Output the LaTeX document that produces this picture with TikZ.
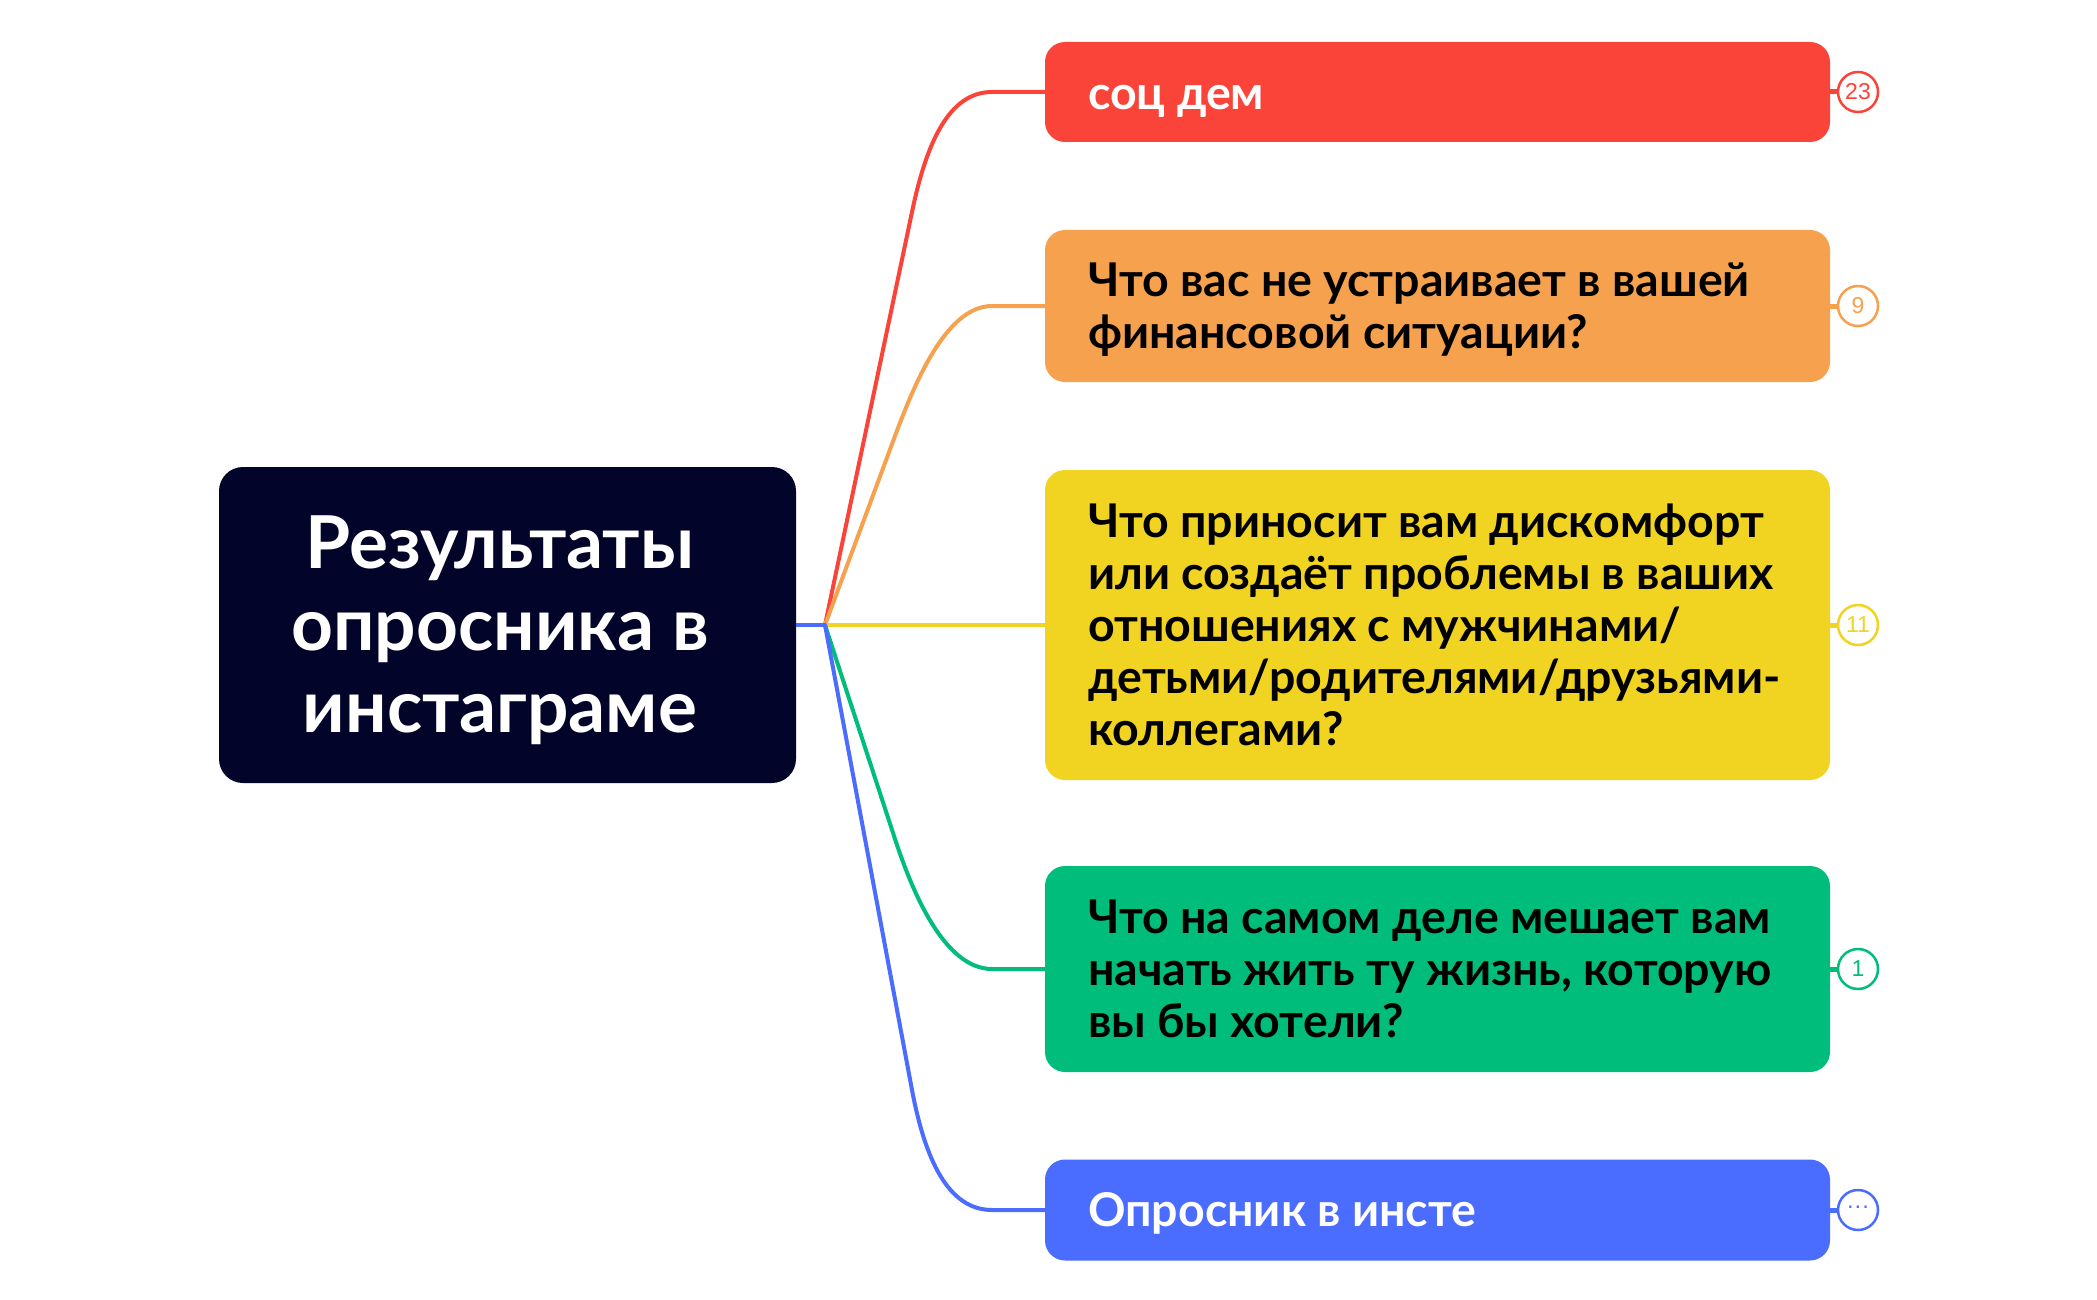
\documentclass[tikz,border=0pt]{standalone}
\usepackage{fontspec}
\setmainfont{Lato}
\newfontfamily\numfont{Liberation Sans}
\definecolor{cred}{HTML}{FB4439}
\definecolor{corange}{HTML}{F5A14D}
\definecolor{cyellow}{HTML}{F1D321}
\definecolor{cgreen}{HTML}{00BD7C}
\definecolor{cblue}{HTML}{4A6CFF}
\definecolor{cnavy}{HTML}{020529}
\begin{document}
\begin{tikzpicture}[x=1pt,y=-1pt,
  branchbox/.style={rectangle, rounded corners=20pt, minimum width=785pt, inner sep=0pt, draw=none},
  btxt/.style={anchor=west, align=left, inner sep=0pt, font=\bfseries\fontsize{46.5}{52}\selectfont},
  conn/.style={line width=4pt, line join=round, line cap=round},
  badge/.style={circle, draw, line width=2.5pt, minimum size=40pt, inner sep=0pt, fill=white, font=\numfont\fontsize{23}{23}\selectfont},
  stub/.style={line width=5pt}
]
\useasboundingbox (0,0) rectangle (2097,1300);

% central topic
\node[rectangle, rounded corners=24pt, fill=cnavy, minimum width=577pt, minimum height=316pt, inner sep=0pt] (root) at (507.5,625) {};
\node[align=center, text=white, inner sep=0pt, font=\bfseries\fontsize{73}{82}\selectfont] (roottxt) at (500,630) {Результаты\\опросника в\\инстаграме};
\coordinate (hub) at (825,625);

% branch boxes
\node[branchbox, fill=cred, minimum height=100pt] (b1) at (1437.5,92) {};
\node[branchbox, fill=corange, minimum height=152pt] (b2) at (1437.5,306) {};
\node[branchbox, fill=cyellow, minimum height=310pt] (b3) at (1437.5,625) {};
\node[branchbox, fill=cgreen, minimum height=206pt] (b4) at (1437.5,969) {};
\node[branchbox, fill=cblue, minimum height=101pt] (b5) at (1437.5,1210) {};

% texts
\node[btxt, text=white] (t1) at (1088,101) {соц дем};
\node[btxt, text=black] (t2) at (1088,310) {Что вас не устраивает в вашей\\финансовой ситуации?};
\node[btxt, text=black] (t3) at (1088,625) {Что приносит вам дискомфорт\\или создаёт проблемы в ваших\\отношениях с мужчинами/\\детьми/родителями/друзьями-\\коллегами?};
\node[btxt, text=black] (t4) at (1088,969) {Что на самом деле мешает вам\\начать жить ту жизнь, которую\\вы бы хотели?};
\node[btxt, text=white] (t5) at (1088,1213) {Опросник в инсте};

% connectors
\draw[conn, cred] (hub) -- (912,212) .. controls (926,145) and (948,92) .. (992,92) -- (b1.west);
\draw[conn, corange] (hub) -- (895,436) .. controls (913,388) and (945,306) .. (992,306) -- (b2.west);
\draw[conn, cyellow] (hub) -- (b3.west);
\draw[conn, cgreen] (hub) -- (895,839) .. controls (913,894) and (945,969) .. (992,969) -- (b4.west);
\draw[conn, cblue] (hub) -- (912,1090) .. controls (925,1159) and (948,1210) .. (992,1210) -- (b5.west);
\draw[conn, cblue, line cap=butt] (root.east) -- (hub);

% badges
\node[badge, draw=cred, text=cred] (n1) at (1858,92) {23};
\node[badge, draw=corange, text=corange] (n2) at (1858,306) {9};
\node[badge, draw=cyellow, text=cyellow] (n3) at (1858,625) {11};
\node[badge, draw=cgreen, text=cgreen] (n4) at (1858,969) {1};
\node[badge, draw=cblue, text=cblue] (n5) at (1858,1210) {···};
\draw[stub, cred] (b1.east) -- (n1.west);
\draw[stub, corange] (b2.east) -- (n2.west);
\draw[stub, cyellow] (b3.east) -- (n3.west);
\draw[stub, cgreen] (b4.east) -- (n4.west);
\draw[stub, cblue] (b5.east) -- (n5.west);
\end{tikzpicture}
\end{document}
